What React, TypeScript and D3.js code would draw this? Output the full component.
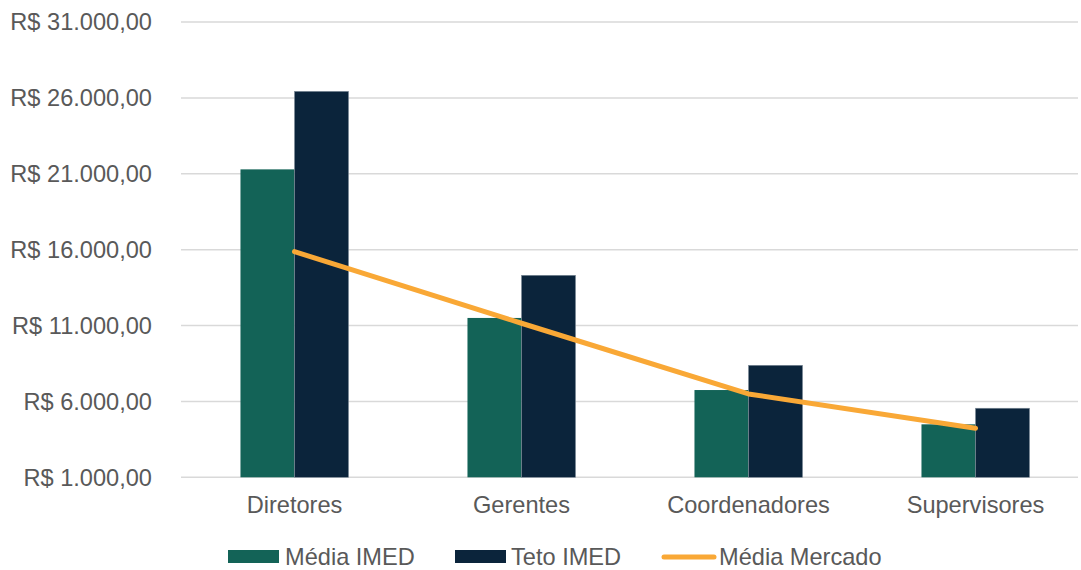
import React from "react";
import * as d3 from "d3";

const categories = ["Diretores", "Gerentes", "Coordenadores", "Supervisores"];
const mediaIMED = [21290, 11500, 6750, 4490];
const tetoIMED = [26430, 14310, 8380, 5550];
const mediaMercado = [15870, 11150, 6490, 4230];
const yTicks = [1000, 6000, 11000, 16000, 21000, 26000, 31000];

const W = 1081;
const H = 570;
const FONT = "'Liberation Sans', Arial, sans-serif";
const TXT = "#595959";
const FS = 23.6;

function formatBR(v: number) {
  const int = Math.floor(v).toString().replace(/\B(?=(\d{3})+(?!\d))/g, ".");
  return "R$ " + int + ",00";
}

export default function App() {
  const y = d3.scaleLinear().domain([1000, 31000]).range([477.3, 22]);
  const x0 = d3.scaleBand<string>().domain(categories).range([181, 1089]).padding(0);
  const groupW = x0.bandwidth() * 0.476;
  const x1 = d3.scaleBand<string>().domain(["m", "t"]).range([0, groupW]).padding(0);
  const cx = (c: string) => (x0(c) as number) + x0.bandwidth() / 2;

  const line = d3
    .line<number>()
    .x((_, i) => cx(categories[i]))
    .y((d) => y(d));

  return (
    <svg
      width={W}
      height={H}
      style={{ position: "absolute", left: 0, top: 0, background: "#fff" }}
      fontFamily={FONT}
    >
      <rect x={0} y={0} width={W} height={H} fill="#fff" />
      {yTicks.map((t) => (
        <g key={t}>
          <line x1={181} x2={1078} y1={y(t)} y2={y(t)} stroke="#d9d9d9" strokeWidth={1.5} />
          <text x={152} y={y(t)} dy="0.35em" textAnchor="end" fontSize={FS} fill={TXT}>
            {formatBR(t)}
          </text>
        </g>
      ))}
      {categories.map((c, i) => {
        const gx = cx(c) - groupW / 2;
        return (
          <g key={c}>
            <rect
              x={gx + (x1("m") as number)}
              y={y(mediaIMED[i])}
              width={x1.bandwidth()}
              height={y(1000) - y(mediaIMED[i])}
              fill="#136357"
            />
            <rect
              x={gx + (x1("t") as number)}
              y={y(tetoIMED[i])}
              width={x1.bandwidth()}
              height={y(1000) - y(tetoIMED[i])}
              fill="#0B243B"
              stroke="#7f8c99"
              strokeWidth={0.6}
            />
            <text x={cx(c)} y={505} dy="0.35em" textAnchor="middle" fontSize={FS} fill={TXT}>
              {c}
            </text>
          </g>
        );
      })}
      <path
        d={line(mediaMercado) as string}
        fill="none"
        stroke="#F9A836"
        strokeWidth={5}
        strokeLinecap="round"
        strokeLinejoin="round"
      />
      <g>
        <rect x={228} y={550} width={51} height={13} fill="#136357" />
        <text x={285} y={557} dy="0.35em" fontSize={FS} fill={TXT}>Média IMED</text>
        <rect x={455} y={550} width={51} height={13} fill="#0B243B" />
        <text x={511} y={557} dy="0.35em" fontSize={FS} fill={TXT}>Teto IMED</text>
        <line x1={664} x2={714} y1={557} y2={557} stroke="#F9A836" strokeWidth={5} strokeLinecap="round" />
        <text x={719} y={557} dy="0.35em" fontSize={FS} fill={TXT}>Média Mercado</text>
      </g>
    </svg>
  );
}
